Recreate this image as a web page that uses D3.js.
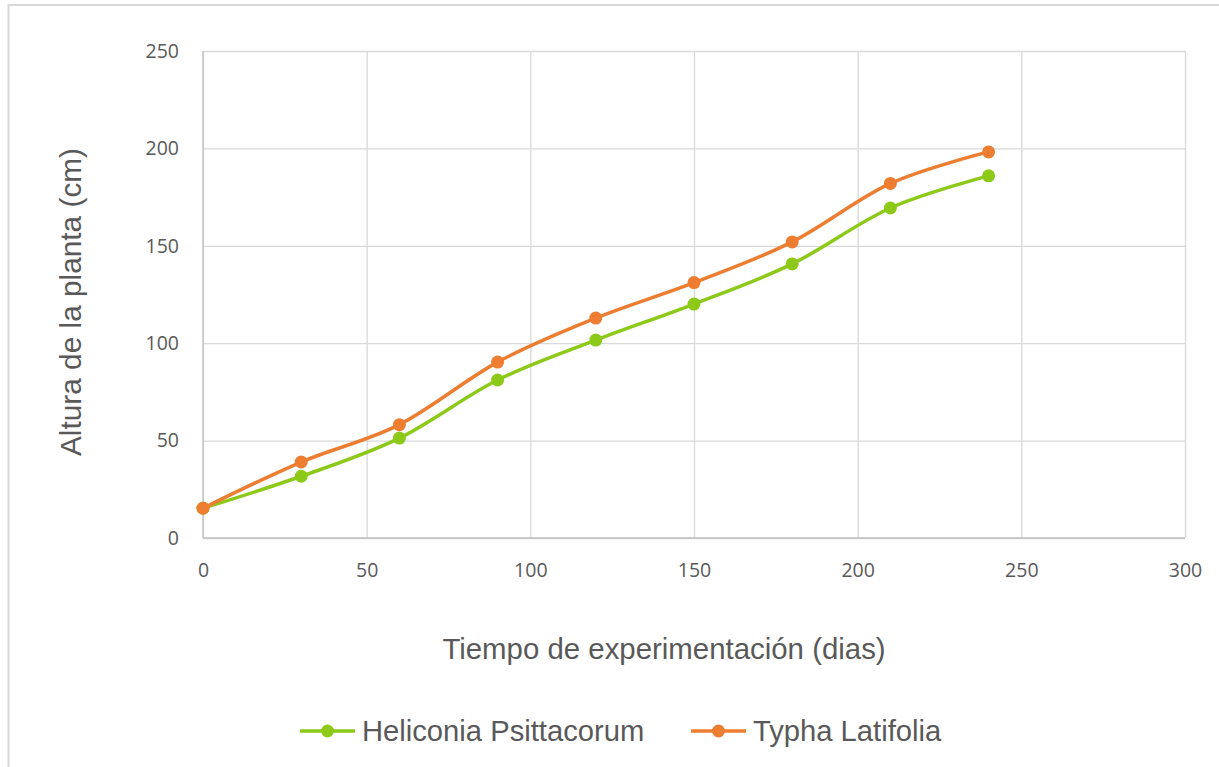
<!DOCTYPE html>
<html>
<head>
<meta charset="utf-8">
<script src="https://cdn.jsdelivr.net/npm/d3@7"></script>
<style>
  html, body { margin: 0; padding: 0; background: #fff; }
  svg { display: block; }
</style>
</head>
<body>
<svg id="chart" width="1219" height="767"></svg>
<script>
// Days of experiment
const dias = [0, 30, 60, 90, 120, 150, 180, 210, 240];
// Plant height (cm) per species
const heliconia = [15.3, 31.7, 51.3, 81.1, 101.6, 120.1, 140.7, 169.4, 185.9];
const typha = [15.3, 39.0, 58.2, 90.3, 112.9, 131.1, 152.0, 182.0, 198.2];
const seriesNames = ["Heliconia Psittacorum", "Typha Latifolia"];
const seriesColors = ["#8cc919", "#ed7d31"];
const xTicks = [0, 50, 100, 150, 200, 250, 300];
const yTicks = [0, 50, 100, 150, 200, 250];

const svg = d3.select("#chart");
const W = 1219, H = 767;
const plot = { left: 203, right: 1185, top: 51, bottom: 538 };

// chart frame
svg.append("rect")
  .attr("x", 8.5).attr("y", 5)
  .attr("width", W + 10).attr("height", H + 10)
  .attr("fill", "#fff").attr("stroke", "#d9d9d9").attr("stroke-width", 2);

const x = d3.scaleLinear().domain([0, 300]).range([plot.left, plot.right]);
const y = d3.scaleLinear().domain([0, 250]).range([plot.bottom, plot.top]);

const tickFont = "'Open Sans', 'DejaVu Sans', sans-serif";
const titleFont = "'Liberation Sans', Arial, sans-serif";
const textColor = "#595959";

// gridlines
const gx = svg.append("g").attr("transform", `translate(0,${plot.bottom})`)
  .call(d3.axisBottom(x).tickValues(xTicks).tickSize(-(plot.bottom - plot.top)).tickFormat(""));
gx.select(".domain").remove();
gx.selectAll("line").attr("stroke", "#d9d9d9").attr("stroke-width", 1.3);

const gy = svg.append("g").attr("transform", `translate(${plot.left},0)`)
  .call(d3.axisLeft(y).tickValues(yTicks).tickSize(-(plot.right - plot.left)).tickFormat(""));
gy.select(".domain").remove();
gy.selectAll("line").attr("stroke", "#d9d9d9").attr("stroke-width", 1.3);

// axis lines
svg.append("line").attr("x1", plot.left).attr("x2", plot.left)
  .attr("y1", plot.top).attr("y2", plot.bottom)
  .attr("stroke", "#bfbfbf").attr("stroke-width", 1.3);
svg.append("line").attr("x1", plot.left).attr("x2", plot.right)
  .attr("y1", plot.bottom).attr("y2", plot.bottom)
  .attr("stroke", "#bfbfbf").attr("stroke-width", 1.3);

// tick labels
const ax = svg.append("g").attr("transform", `translate(0,${plot.bottom})`)
  .call(d3.axisBottom(x).tickValues(xTicks).tickSize(0).tickPadding(25));
ax.select(".domain").remove();
ax.selectAll("text").attr("font-family", tickFont).attr("font-size", 19.5).attr("fill", textColor);

const ay = svg.append("g").attr("transform", `translate(${plot.left},0)`)
  .call(d3.axisLeft(y).tickValues(yTicks).tickSize(0).tickPadding(24));
ay.select(".domain").remove();
ay.selectAll("text").attr("font-family", tickFont).attr("font-size", 19.5).attr("fill", textColor);

// axis titles
svg.append("text")
  .attr("x", 664).attr("y", 659)
  .attr("text-anchor", "middle")
  .attr("font-family", titleFont).attr("font-size", 29.4).attr("fill", textColor)
  .text("Tiempo de experimentación (dias)");
svg.append("text")
  .attr("transform", "translate(81,302) rotate(-90)")
  .attr("text-anchor", "middle")
  .attr("font-family", titleFont).attr("font-size", 29.8).attr("fill", textColor)
  .text("Altura de la planta (cm)");

// series
const seriesData = [heliconia, typha];
const line = d3.line()
  .x(d => x(d[0])).y(d => y(d[1]))
  .curve(d3.curveCatmullRom.alpha(0));

seriesData.forEach((vals, i) => {
  const pts = dias.map((d, j) => [d, vals[j]]);
  const g = svg.append("g");
  g.append("path").datum(pts)
    .attr("d", line).attr("fill", "none")
    .attr("stroke", seriesColors[i]).attr("stroke-width", 3.5)
    .attr("stroke-linejoin", "round").attr("stroke-linecap", "round");
  g.selectAll("circle").data(pts).join("circle")
    .attr("cx", d => x(d[0])).attr("cy", d => y(d[1]))
    .attr("r", 6.5).attr("fill", seriesColors[i]);
});

// legend
const legendItems = [
  { lx: 300, tx: 362 },
  { lx: 691, tx: 753 }
];
const legY = 731;
legendItems.forEach((it, i) => {
  const g = svg.append("g");
  g.append("line").attr("x1", it.lx).attr("x2", it.lx + 55)
    .attr("y1", legY).attr("y2", legY)
    .attr("stroke", seriesColors[i]).attr("stroke-width", 3.5);
  g.append("circle").attr("cx", it.lx + 27.5).attr("cy", legY).attr("r", 6.5)
    .attr("fill", seriesColors[i]);
  g.append("text").attr("x", it.tx).attr("y", legY)
    .attr("dy", "0.35em")
    .attr("font-family", titleFont).attr("font-size", 29.2).attr("fill", textColor)
    .text(seriesNames[i]);
});
</script>
</body>
</html>
